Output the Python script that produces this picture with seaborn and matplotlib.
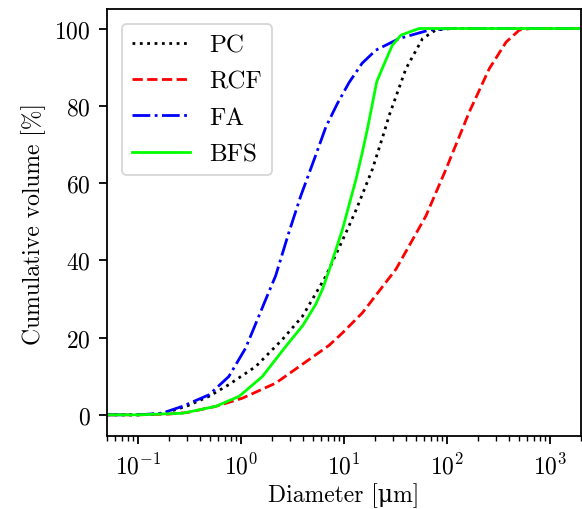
import numpy as np
import pandas as pd
import matplotlib
matplotlib.use("Agg")
import matplotlib.pyplot as plt
import seaborn as sns

# particle size distributions (diameter in um, cumulative volume in %)
pc_d = [0.05, 0.1, 0.15, 0.2, 0.3, 0.49, 0.76, 1.39, 2.52, 3.95, 6.67, 10.4, 13.1, 16.3, 18.9, 24.6, 27.5, 40, 58, 78, 110, 2000]
pc_v = [0, 0, 0.2, 0.8, 2.3, 4.8, 7.8, 12.5, 19.5, 25.5, 35.9, 47.0, 53.0, 59.3, 63.6, 73.2, 77.5, 89.6, 97.4, 99.6, 100, 100]

rcf_d = [0.05, 0.1, 0.2, 0.3, 0.57, 1.03, 2.17, 4.58, 7.18, 9.67, 15.1, 32, 62.6, 98, 165, 258, 376, 505, 650, 2000]
rcf_v = [0, 0, 0.2, 0.6, 2.2, 4.3, 8.2, 14.3, 18.0, 21.2, 26.4, 37.7, 51.5, 63.6, 78.4, 89.6, 96.5, 99.6, 100, 100]

fa_d = [0.05, 0.1, 0.17, 0.27, 0.49, 0.76, 1.11, 1.74, 2.17, 2.9, 3.81, 5.2, 6.67, 8.6, 11.2, 15.0, 20.4, 34.4, 67.4, 100, 2000]
fa_v = [0, 0, 0.4, 2.2, 5.2, 9.9, 17.3, 29.9, 36.0, 47.0, 56.7, 66.5, 74.5, 80.5, 86.0, 91.0, 94.4, 97.4, 99.6, 100, 100]

bfs_d = [0.05, 0.1, 0.27, 0.57, 0.96, 1.61, 2.72, 4.0, 5.32, 6.2, 7.18, 9.67, 13.1, 15.1, 16.9, 20.8, 23.5, 29.4, 35.8, 53.6, 2000]
bfs_v = [0, 0, 0.4, 2.2, 4.8, 9.9, 17.7, 23.2, 28.6, 32.6, 37.4, 48.0, 61.0, 68.0, 74.0, 86.2, 89.6, 95.6, 98.3, 100, 100]

series = [
    ("PC", pc_d, pc_v, "black", ":"),
    ("RCF", rcf_d, rcf_v, "red", "--"),
    ("FA", fa_d, fa_v, "blue", "-."),
    ("BFS", bfs_d, bfs_v, "lime", "-"),
]

plt.rcParams["font.family"] = "serif"
plt.rcParams["font.serif"] = ["cmr10"]
plt.rcParams["mathtext.fontset"] = "cm"
plt.rcParams["axes.formatter.use_mathtext"] = True
plt.rcParams["axes.linewidth"] = 1.3

fig = plt.figure(figsize=(5.82, 5.10), dpi=100)
ax = fig.add_axes([0.184, 0.143, 0.814, 0.837])

for name, d, v, color, ls in series:
    df = pd.DataFrame({"d": d, "v": v})
    sns.lineplot(data=df, x="d", y="v", ax=ax, color=color, linestyle=ls,
                 linewidth=2.0, label=name, sort=False)

ax.set_xscale("log")
ax.set_xlim(0.05, 2000)
ax.set_ylim(-5.5, 105)
ax.set_yticks([0, 20, 40, 60, 80, 100])
ax.tick_params(which="major", labelsize=17, length=6, width=1.3, pad=6)
ax.tick_params(which="minor", length=3.5, width=1.0)
ax.set_xlabel("Diameter [μm]", fontsize=17, labelpad=3,
              family=["cmr10", "DejaVu Serif"])
ax.set_ylabel("Cumulative volume [%]", fontsize=17, labelpad=6)
leg = ax.legend(loc="upper left", fontsize=18, handlelength=2.3,
                labelspacing=0.55, borderaxespad=0.6)
leg.get_frame().set_linewidth(1.3)

fig.savefig("out.png", dpi=100)
